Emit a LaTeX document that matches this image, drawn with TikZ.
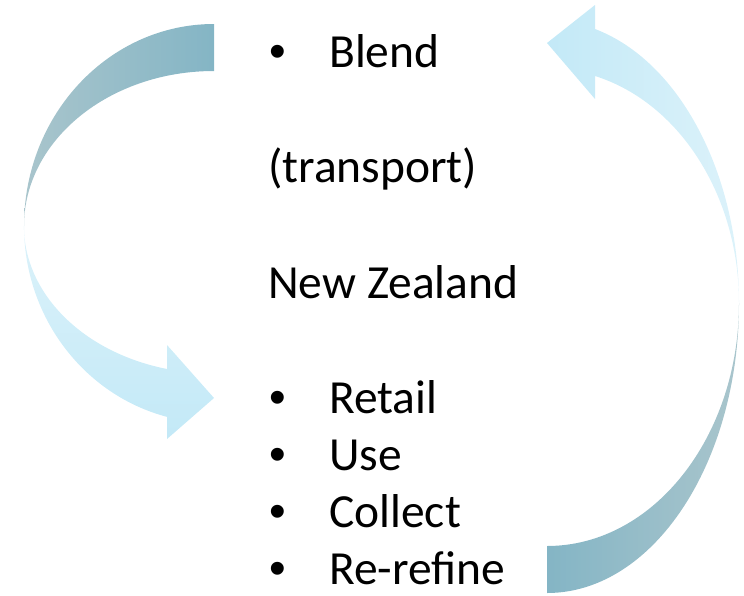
\documentclass[tikz,border=0pt]{standalone}
\usepackage{fontspec}
\setmainfont{Carlito}
\newfontfamily\bulletfont{Liberation Sans}
\usepackage{tikz}

\definecolor{arrteal}{HTML}{84B5C5}
\definecolor{arrgray}{HTML}{A9C5CC}
\definecolor{arrpale}{HTML}{DCF2FA}
\definecolor{arrsky}{HTML}{C3E9F7}

\tikzset{
    txt/.style={anchor=base west, inner sep=0pt, font=\fontsize{47.5}{57}\selectfont},
    bul/.style={anchor=base west, inner sep=0pt, font=\bulletfont\fontsize{47.5}{57}\selectfont},
    backpart/.style={draw=none, left color=arrgray, right color=arrteal},
    frontpart/.style={draw=none, left color=arrpale, right color=arrsky}
}

\begin{document}
\begin{tikzpicture}[x=1pt, y=-1pt]
                \useasboundingbox (0,0) rectangle (744,595);

                \path[backpart]
                    (214,24) arc[start angle=270, end angle=180, x radius=190, y radius=202]
                    arc[start angle=180, end angle=270, x radius=190, y radius=155] -- cycle;
                \path[frontpart, top color=arrpale, bottom color=arrsky]
                    (24,226) arc[start angle=180, end angle=104.3, x radius=190, y radius=197]
                    -- (167,439) -- (214,398) -- (167,345) -- (167,369)
                    arc[start angle=104.3, end angle=180, x radius=190, y radius=147.6] -- cycle;

                \path[backpart, left color=arrteal, right color=arrgray]
                    (547,593) arc[start angle=90, end angle=0, x radius=192, y radius=290]
                    arc[start angle=0, end angle=90, x radius=192, y radius=243] -- cycle;
                \path[frontpart, left color=arrsky, right color=arrpale]
                    (739,303) arc[start angle=0, end angle=-75.52, x radius=192, y radius=283]
                    -- (595,5) -- (547,43) -- (595,99) -- (595,76)
                    arc[start angle=-75.52, end angle=0, x radius=192, y radius=234.5] -- cycle;

                \node[bul] (b1) at (269,67) {\textbullet};
                \node[txt] (bl) at (329,67) {Blend};
                \node[txt] (tr) at (268,182) {(transport)};
                \node[txt] (nz) at (268,298) {New Zealand};
                \node[bul] (b2) at (269,413) {\textbullet};
                \node[txt] (re) at (329,413) {Retail};
                \node[bul] (b3) at (269,470) {\textbullet};
                \node[txt] (us) at (329,470) {Use};
                \node[bul] (b4) at (269,527) {\textbullet};
                \node[txt] (co) at (329,527) {Collect};
                \node[bul] (b5) at (269,584) {\textbullet};
                \node[txt] (rr) at (329,584) {Re-refine};
            \end{tikzpicture}
\end{document}
